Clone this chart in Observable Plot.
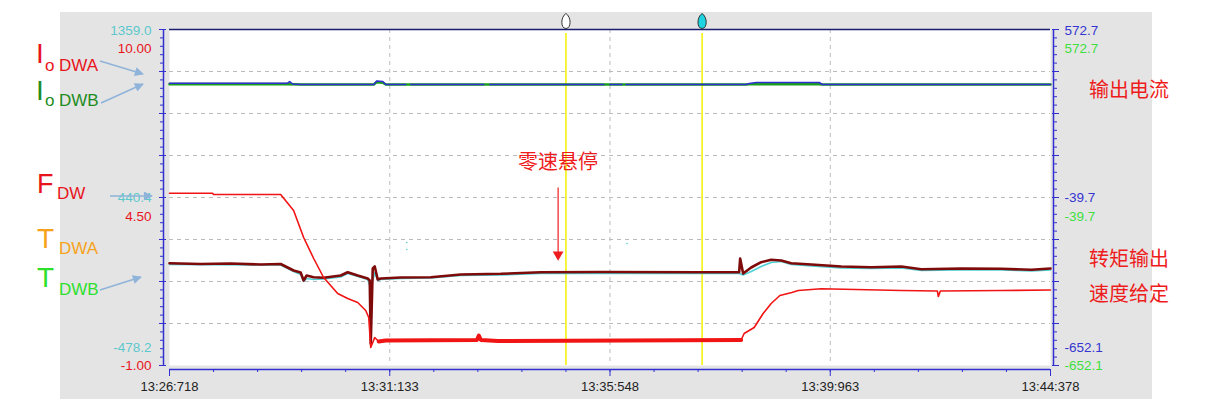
<!DOCTYPE html>
<html><head><meta charset="utf-8">
<script src="https://cdn.jsdelivr.net/npm/d3@7"></script>
<script src="https://cdn.jsdelivr.net/npm/@observablehq/plot@0.6"></script>
<style>
body{margin:0;background:#fff;}
#wrap{position:relative;width:1215px;height:402px;overflow:hidden;background:#fff;}
#panel{position:absolute;left:60px;top:12px;width:1092px;height:387px;background:#e4e4e4;}
#chart{position:absolute;left:0;top:0;}
#deco{position:absolute;left:0;top:0;pointer-events:none;}
</style></head><body>
<div id="wrap"><div id="panel"></div><div id="chart"></div>
<svg id="deco" width="1215" height="402" font-family="'Liberation Sans', Arial, sans-serif">
<defs><marker id="ah" viewBox="0 0 10 10" refX="9" refY="5" markerWidth="7" markerHeight="6" orient="auto"><path d="M0,0L10,5L0,10z" fill="#8fb3d9"/></marker></defs>
<text x="36" y="63" font-size="28" fill="#e8141c">I</text>
<text x="45" y="71" font-size="17" fill="#e8141c">o</text>
<text x="59" y="71" font-size="17" fill="#e8141c">DWA</text>
<text x="36" y="100" font-size="28" fill="#1e8c1e">I</text>
<text x="45" y="106" font-size="17" fill="#1e8c1e">o</text>
<text x="59" y="106" font-size="17" fill="#1e8c1e">DWB</text>
<text x="37" y="193" font-size="27" fill="#e8141c">F</text>
<text x="57" y="199" font-size="17" fill="#e8141c">DW</text>
<text x="37" y="248" font-size="28" fill="#f7a21b">T</text>
<text x="59" y="254" font-size="17" fill="#f7a21b">DWA</text>
<text x="37" y="287" font-size="28" fill="#2ee02e">T</text>
<text x="59" y="295" font-size="17" fill="#2ee02e">DWB</text>
<line x1="100" y1="61" x2="143" y2="74" stroke="#8fb3d9" stroke-width="1.5" marker-end="url(#ah)"/>
<line x1="101" y1="103" x2="143" y2="84" stroke="#8fb3d9" stroke-width="1.5" marker-end="url(#ah)"/>
<line x1="110" y1="196" x2="152" y2="196" stroke="#8fb3d9" stroke-width="1.5" marker-end="url(#ah)"/>
<line x1="100" y1="290" x2="141" y2="277" stroke="#8fb3d9" stroke-width="1.5" marker-end="url(#ah)"/>
<g font-family="'Noto Sans CJK SC', sans-serif" font-size="20" fill="#ee1c1c">
<text x="1089" y="97">输出电流</text>
<text x="1089" y="266">转矩输出</text>
<text x="1089" y="301">速度给定</text>
</g>
</svg>
</div>
<script>
// ---- axes / ticks ----
const timeTickLabels = ["13:26:718","13:31:133","13:35:548","13:39:963","13:44:378"];
const timeTicks = [0, 4.415, 8.83, 13.245, 17.66]; // seconds after 13:26:718
const speedRange = [-1.00, 10.00];
const torqueRange = [-478.2, 1359.0];
const currentRange = [-652.1, 572.7];
const speedLabels = ["10.00", "4.50", "-1.00"];
const speedLabelValues = [10.00, 4.50, -1.00];
const torqueLabels = ["1359.0", "440.4", "-478.2"];
const torqueLabelValues = [1359.0, 440.4, -478.2];
const currentLabels = ["572.7", "-39.7", "-652.1"];
const currentLabelValues = [572.7, -39.7, -652.1];

// ---- series ----
const speedTime = [0, 0.863, 0.883, 2.228, 2.488, 2.689, 2.890, 3.090, 3.371, 3.572, 3.773, 3.933, 3.994, 4.034, 4.114, 4.194, 4.335, 6.161, 6.201, 6.241, 6.582, 11.459, 11.519, 11.720, 11.900, 12.061, 12.235, 12.476, 12.603, 13.064, 14.670, 15.392, 15.412, 15.452, 16.676, 17.66];
const speedValue = [4.64, 4.64, 4.60, 4.60, 4.074, 3.190, 2.503, 1.881, 1.357, 1.193, 1.063, 0.801, 0.571, -0.411, -0.083, -0.214, -0.182, -0.165, -0.018, -0.165, -0.198, -0.165, 0.048, 0.244, 0.703, 1.030, 1.292, 1.390, 1.455, 1.511, 1.455, 1.439, 1.259, 1.439, 1.455, 1.471];

const currentATime = [0, 2.368, 2.408, 2.468, 2.629, 4.094, 4.154, 4.275, 4.335, 4.736, 4.786, 4.836, 6.301, 6.36, 6.422, 8.709, 8.77, 8.830, 9.071, 9.11, 9.151, 11.559, 11.620, 11.760, 13.024, 13.084, 17.66];
const currentAValue = [376.9, 376.9, 383.1, 374.0, 372.2, 372.2, 385.0, 383.1, 372.2, 372.2, null, 372.2, 372.2, null, 372.2, 372.2, null, 372.2, 372.2, null, 372.2, 372.2, 375.9, 379.5, 379.5, 372.2, 372.2];
const currentBTime = [0, 2.368, 2.629, 4.094, 4.154, 4.275, 4.335, 11.559, 11.620, 13.024, 13.084, 17.66];
const currentBValue = [373.5, 373.5, 372.2, 372.2, 381.0, 379.0, 372.2, 372.2, 373.0, 373.0, 372.2, 372.2];

const torqueBTime = [0, 0.622, 1.224, 1.826, 2.228, 2.288, 2.488, 2.629, 2.689, 2.749, 2.890, 3.090, 3.432, 3.572, 3.773, 3.973, 4.014, 4.034, 4.074, 4.114, 4.174, 4.234, 4.636, 5.238, 5.840, 6.643, 7.445, 8.649, 10.656, 11.419, 11.439, 11.499, 11.660, 11.860, 12.061, 12.262, 12.462, 12.864, 13.466, 14.068, 14.670, 15.071, 15.874, 16.677, 17.279, 17.66];
const torqueBValue = [81.1, 76.8, 79.5, 74.0, 76.8, 68.6, 41.2, 30.3, -13.4, 13.9, 4.6, 1.3, 13.9, 31.9, 13.9, -2.5, -13.4, -357.9, 52.2, 63.1, -8.0, -2.5, 3.0, 4.6, 19.4, 23.2, 31.9, 33.0, 31.9, 31.9, 106.9, 24.9, 57.7, 86.6, 99.8, 96.0, 81.1, 74.0, 63.1, 59.3, 63.1, 48.4, 52.2, 50.5, 45.1, 52.2];
const torqueATime = [0, 2.228, 2.488, 2.629, 2.689, 2.749, 2.890, 3.090, 3.432, 3.572, 3.773, 3.973, 4.034, 4.114, 4.174, 4.234, 4.636, 5.238, 5.840, 6.643, 7.445, 8.649, 10.656, 11.419, 11.499, 11.660, 11.860, 12.061, 12.262, 12.462, 12.864, 13.466, 14.068, 14.670, 15.071, 15.874, 16.677, 17.279, 17.66];
const torqueAValue = [74.0, 71.3, 35.8, 19.4, -18.9, -2.5, -8.0, -5.2, 5.8, 24.9, 8.5, -8.0, -57.2, 30.3, -13.4, -8.0, -2.5, 0.2, 13.9, 16.6, 24.9, 24.9, 24.9, 24.9, 16.6, 35.8, 63.1, 85.0, 90.5, 74.0, 65.8, 54.8, 52.2, 54.8, 41.2, 43.9, 43.9, 38.4, 43.9];
const torqueADotTime = [4.756, 4.756, 9.171];
const torqueADotValue = [194.3, 156.1, 188.9];

const cursorTimes = [7.947, 10.676];
const hoverNote = {label: "零速悬停", t: 7.79, textTorque: 632, fromTorque: 495, toTorque: 112};

// ---- helpers ----
const norm = (r) => (v) => v == null ? null : (v - r[0]) / (r[1] - r[0]);
const rows = (ts, vs, r) => ts.map((t, i) => ({t, v: norm(r)(vs[i])}));
const speedRows = rows(speedTime, speedValue, speedRange);
const curA = rows(currentATime, currentAValue, currentRange);
const curB = rows(currentBTime, currentBValue, currentRange);
const tqA = rows(torqueATime, torqueAValue, torqueRange);
const tqB = rows(torqueBTime, torqueBValue, torqueRange);
const tqDots = rows(torqueADotTime, torqueADotValue, torqueRange);

const blue = "#3030d0", red = "#f01414", maroon = "#7e0a0a", cyan = "#4fd0d4", green = "#1aa01a";
const numFont = "'Liberation Sans Narrow', 'Arial Narrow', 'Liberation Sans', Arial, sans-serif";
const majorY = d3.range(0, 9).map(i => i / 8);
const minorY = d3.range(0, 41).map(i => i / 40);
const minorX = d3.range(0, 21).map(i => i * timeTicks[1] / 5);

const drop = {draw(c) { c.moveTo(0, -7.5); c.bezierCurveTo(5.5, -4, 5.5, 7.5, 0, 7.5); c.bezierCurveTo(-5.5, 7.5, -5.5, -4, 0, -7.5); c.closePath(); }};

const labelMarks = (values, labels, range, color, dys, side) => values.map((v, i) => Plot.text([v], {
  y: norm(range), text: () => labels[i], frameAnchor: side, dx: side === "left" ? -18 : 14, dy: dys[i],
  textAnchor: side === "left" ? "end" : "start", fill: color, fontSize: 13.5, fontFamily: numFont
}));

const tq = norm(torqueRange);
const chart = Plot.plot({
  width: 1215, height: 402,
  marginLeft: 169, marginRight: 165, marginTop: 29, marginBottom: 37,
  style: {background: "transparent", overflow: "visible"},
  x: {domain: [0, 17.66], axis: null, label: null},
  y: {domain: [0, 1], axis: null, label: null},
  marks: [
    Plot.frame({fill: "white", stroke: null}),
    Plot.ruleY(majorY.slice(1, 8), {stroke: "#bcbcbc", strokeDasharray: "4,4"}),
    Plot.ruleX(timeTicks.slice(1, 4), {stroke: "#bcbcbc", strokeDasharray: "4,4"}),
    Plot.ruleX(cursorTimes, {stroke: "#f2f200", strokeWidth: 1.5, y1: 0, y2: 1, insetBottom: -4}),
    // currents
    Plot.line(curB, {x: "t", y: "v", stroke: green, strokeWidth: 2.6}),
    Plot.line(curA, {x: "t", y: "v", stroke: blue, strokeWidth: 1.6}),
    // torques
    Plot.line(tqA, {x: "t", y: "v", stroke: cyan, strokeWidth: 1.6}),
    Plot.dot(tqDots, {x: "t", y: "v", r: 0.8, fill: cyan}),
    Plot.line(tqB, {x: "t", y: "v", stroke: maroon, strokeWidth: 2.6}),
    // speed
    Plot.line(speedRows, {x: "t", y: "v", stroke: red, strokeWidth: 1.6}),
    Plot.line(speedRows.filter(d => d.t >= 4.19 && d.t <= 11.46), {x: "t", y: "v", stroke: red, strokeWidth: 4}),
    // annotation
    Plot.text([hoverNote], {x: "t", y: d => tq(d.textTorque), text: "label", fill: "#ee1c1c", fontSize: 20, fontFamily: "'Noto Sans CJK SC', sans-serif"}),
    Plot.link([hoverNote], {x1: "t", x2: "t", y1: d => tq(d.fromTorque), y2: d => tq(d.toTorque), stroke: "#ee1c1c", strokeWidth: 1.2}),
    Plot.dot([hoverNote], {x: "t", y: d => tq(d.toTorque), symbol: "triangle", rotate: 180, r: 4, fill: "#ee1c1c", dy: -3}),
    // frame lines & axes
    Plot.ruleY([1], {stroke: "#1c1c70", strokeWidth: 1.5}),
    Plot.ruleX([0], {dx: -6, stroke: blue, strokeWidth: 1.5}),
    Plot.axisY({ticks: minorY, anchor: "left", tickSize: 3, dx: -6, stroke: blue, tickFormat: () => "", label: null}),
    Plot.axisY({ticks: majorY, anchor: "left", tickSize: 7, dx: -3, stroke: blue, tickFormat: () => "", label: null}),
    Plot.ruleX([17.66], {dx: 3, stroke: blue, strokeWidth: 1.5}),
    Plot.axisY({ticks: minorY, anchor: "right", tickSize: 3, dx: 3, stroke: blue, tickFormat: () => "", label: null}),
    Plot.axisY({ticks: majorY, anchor: "right", tickSize: 7, dx: 1, stroke: blue, tickFormat: () => "", label: null}),
    Plot.ruleY([0], {dy: 4, stroke: blue, strokeWidth: 1.5}),
    Plot.axisX({ticks: minorX, anchor: "bottom", tickSize: 3, dy: 4, stroke: blue, tickFormat: () => "", label: null}),
    Plot.axisX({ticks: timeTicks, anchor: "bottom", tickSize: 7, dy: 4, tickPadding: 5, stroke: blue, fill: "#222",
      fontSize: 13, fontFamily: numFont, tickFormat: d => timeTickLabels[timeTicks.indexOf(d)], label: null}),
    ...labelMarks(torqueLabelValues, torqueLabels, torqueRange, "#5cc8cc", [1, 0, -18], "left"),
    ...labelMarks(speedLabelValues, speedLabels, speedRange, "#e8141c", [19, 19, 0], "left"),
    ...labelMarks(currentLabelValues, currentLabels, currentRange, "#3434d0", [1, 0, -18], "right"),
    ...labelMarks(currentLabelValues, currentLabels, currentRange, "#3de03d", [19, 19, 0], "right"),
    // cursors markers
    Plot.dot([cursorTimes[0]], {x: d => d, frameAnchor: "top", dy: -8.5, symbol: drop, r: 5, fill: "white", stroke: "#333", strokeWidth: 1}),
    Plot.dot([cursorTimes[1]], {x: d => d, frameAnchor: "top", dy: -8.5, symbol: drop, r: 5, fill: "#1fd3e0", stroke: "#333", strokeWidth: 1})
  ]
});
document.getElementById("chart").appendChild(chart);
</script>
</body></html>
